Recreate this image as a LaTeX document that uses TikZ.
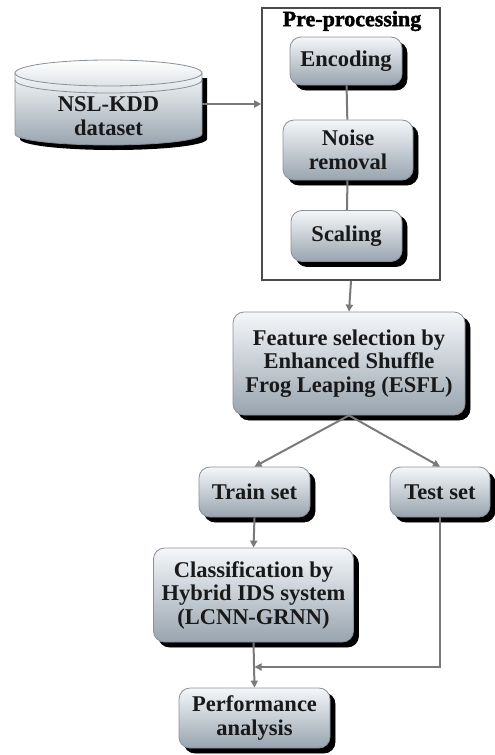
\documentclass[tikz,border=0pt]{standalone}
\usepackage{fontspec}
\setmainfont{Liberation Serif}
\newfontfamily\heavyfont{Liberation Serif}[BoldFeatures={FakeBold=1.8}]
\usetikzlibrary{shadows,arrows.meta}
\definecolor{boxtop}{HTML}{F5F7F9}
\definecolor{boxbot}{HTML}{98A4AF}
\definecolor{linec}{HTML}{7A7A7A}
\definecolor{edgec}{HTML}{8A9096}
\tikzset{
  lbl/.style={font=\bfseries\fontsize{22.5}{23.5}\selectfont, text=black!90, align=center},
  box/.style={lbl, rounded corners=11pt, draw=edgec, line width=0.8pt,
    top color=boxtop, bottom color=boxbot,
    copy shadow={shadow xshift=5pt, shadow yshift=-5pt, fill=black, draw=black},
    inner sep=2pt},
  conn/.style={draw=linec, line width=2pt},
  arr/.style={conn, -{Triangle[length=7pt,width=7pt]}},
}
\begin{document}
\begin{tikzpicture}[x=1pt,y=-1pt]
\useasboundingbox (0,0) rectangle (495,755);
% cylinder: shadow
\fill[black] (20,78) -- (20,139) arc[start angle=180,end angle=360,x radius=93.5pt,y radius=11pt] -- (207,78) -- cycle;
% cylinder body
\shade[top color=boxtop, bottom color=boxbot, draw=edgec, line width=0.8pt]
  (15,73) -- (15,134) arc[start angle=180,end angle=360,x radius=93.5pt,y radius=11pt] -- (202,73) -- cycle;
% rim
\draw[edgec, line width=0.8pt] (15,80) arc[start angle=180,end angle=360,x radius=93.5pt,y radius=13pt];
% top ellipse
\shade[top color=white, bottom color=boxtop!75!boxbot, draw=edgec, line width=0.8pt] (108.5,73) ellipse[x radius=93.5pt, y radius=13pt];
\node[lbl, minimum width=187pt] (db) at (108.5,116) {NSL-KDD\\dataset};

% pre-processing
\node[draw=black!70, line width=1.6pt, minimum width=178pt, minimum height=272pt] (pre) at (351,144) {};
\node[lbl, font=\heavyfont\bfseries\fontsize{22}{23}\selectfont, text=black] (pretitle) at (352,21) {Pre-processing};
\node[box, minimum width=112pt, minimum height=48pt] (enc) at (346,61) {Encoding};
\node[box, minimum width=130pt, minimum height=60pt] (noise) at (348,150) {Noise\\removal};
\node[box, minimum width=111pt, minimum height=51pt] (scal) at (346.5,236) {Scaling};

\node[box, minimum width=232pt, minimum height=103pt] (feat) at (349,363.5) {Feature selection by\\Enhanced Shuffle\\Frog Leaping (ESFL)};
\node[box, minimum width=111pt, minimum height=50pt] (train) at (254.5,492) {Train set};
\node[box, minimum width=100pt, minimum height=50pt] (test) at (440,492) {Test set};
\node[box, minimum width=200pt, minimum height=94pt] (cls) at (253.5,595) {Classification by\\Hybrid IDS system\\(LCNN-GRNN)};
\node[box, minimum width=151pt, minimum height=60pt] (perf) at (254.5,718) {Performance\\analysis};
\coordinate (j) at (254.5,667);

% connectors
\draw[arr] ([yshift=12pt]db.east) -- ([yshift=12pt]db.east -| pre.west);
\draw[conn] (enc) -- (noise);
\draw[conn] (noise) -- (scal);
\draw[arr] (pre.south) -- (feat.north);
\draw[arr] (feat.south) -- (train.north);
\draw[arr] (feat.south) -- (test.north);
\draw[arr] (train.south) -- (cls.north);
\draw[arr] (cls.south) -- (perf.north);
\draw[arr] (test.south) |- (j);
\end{tikzpicture}
\end{document}
